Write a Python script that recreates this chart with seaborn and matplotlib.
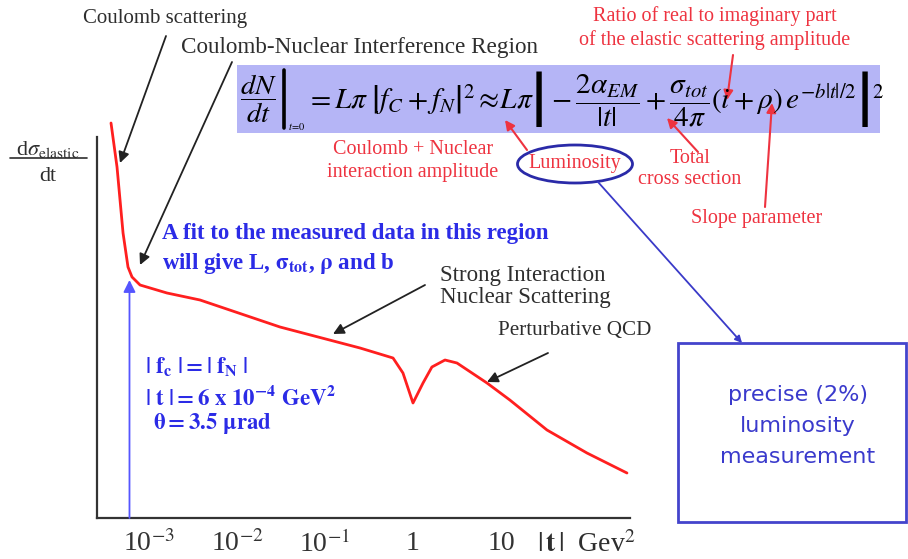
import numpy as np
import pandas as pd
import matplotlib
matplotlib.use("Agg")
import matplotlib.pyplot as plt
import seaborn as sns
from matplotlib.patches import FancyArrowPatch, Rectangle, Ellipse
from matplotlib.lines import Line2D
from matplotlib.ticker import NullLocator

# ---------------- data ----------------
t_values = [3.70e-4, 4.33e-4, 5.07e-4, 5.77e-4, 6.41e-4, 7.91e-4, 1.60e-3, 3.80e-3,
            0.0308, 0.250, 0.593, 0.769, 1.0, 1.30, 1.64, 2.31, 3.16, 6.93,
            12.6, 33.3, 94.8, 270.0]
dsigma_values = [3.95, 3.51, 2.85, 2.51, 2.41, 2.33, 2.25, 2.18,
                 1.91, 1.70, 1.60, 1.45, 1.15, 1.35, 1.51, 1.58, 1.55, 1.35,
                 1.18, 0.88, 0.65, 0.45]
tick_values = [1e-3, 1e-2, 1e-1, 1, 10]
tick_labels = ["10$^{-3}$", "10$^{-2}$", "10$^{-1}$", "1", "10"]
t_interference = 6e-4
y_interference = 2.38

W, H = 908, 559

sns.set_style("white")
plt.rcParams["font.family"] = ["Liberation Serif", "DejaVu Serif"]
plt.rcParams["mathtext.fontset"] = "stix"

fig = plt.figure(figsize=(W / 100, H / 100), dpi=100)
ax = fig.add_axes([97 / W, 1 - 518 / H, (630 - 97) / W, (518 - 137) / H])
ax.set_xscale("log")

df = pd.DataFrame({"t": t_values, "y": dsigma_values})
sns.lineplot(data=df, x="t", y="y", ax=ax, color="#ff1f1f", linewidth=2.0,
             sort=False, clip_on=False)

ax.set_xlim(10 ** -3.591, 10 ** 2.466)
ax.set_ylim(0, 3.81)
ax.set_xlabel("")
ax.set_ylabel("")
ax.set_yticks([])
ax.set_xticks(tick_values)
ax.set_xticklabels(tick_labels)
ax.xaxis.set_minor_locator(NullLocator())
ax.tick_params(axis="x", direction="in", length=11.5, width=1.3, color="#333333",
               labelsize=20, pad=9, labelcolor="#333333")
for s in ["top", "right"]:
    ax.spines[s].set_visible(False)
for s in ["left", "bottom"]:
    ax.spines[s].set_color("#333333")
    ax.spines[s].set_linewidth(1.6)

# blue vertical arrow at |t| = 6e-4
ax.annotate("", xy=(t_interference, y_interference), xytext=(t_interference, 0),
            arrowprops=dict(arrowstyle="-|>", color="#5555ff", lw=1.3,
                            mutation_scale=18, shrinkA=0, shrinkB=0))


def P(x, y):
    return (x / W, 1 - y / H)


def ftext(x, y, s, **kw):
    fig.text(x / W, 1 - y / H, s, **kw)


def farrow(x0, y0, x1, y1, color, lw=1.3, ms=16):
    a = FancyArrowPatch(P(x0, y0), P(x1, y1), transform=fig.transFigure,
                        arrowstyle="-|>", color=color, lw=lw, mutation_scale=ms,
                        shrinkA=0, shrinkB=0)
    fig.add_artist(a)


dark = "#2e2e2e"
red = "#ee3340"
blue = "#2b2be6"

# y label
ftext(48, 150, r"d$\sigma_{\mathrm{elastic}}$", ha="center", va="center",
      fontsize=16, color=dark)
fig.add_artist(Line2D([10 / W, 87 / W], [1 - 158 / H, 1 - 158 / H], color=dark, lw=1.2))
ftext(48, 176, "dt", ha="center", va="center", fontsize=16, color=dark)

# x label
ftext(537, 545, r"$|\,\mathbf{t}\,|$  Gev$^{2}$", ha="left", va="center",
      fontsize=20, color=dark)

# black annotations
ftext(83, 18, "Coulomb scattering", ha="left", va="center", fontsize=15, color=dark)
ftext(181, 47, "Coulomb-Nuclear Interference Region", ha="left", va="center",
      fontsize=16.7, color=dark)
farrow(166, 36, 120, 163, "#222222")
farrow(232, 62, 140, 265, "#222222")
ftext(440, 275, "Strong Interaction", ha="left", va="center", fontsize=16.5, color=dark)
ftext(440, 297, "Nuclear Scattering", ha="left", va="center", fontsize=16.5, color=dark)
farrow(425, 285, 333, 334, "#222222")
ftext(498, 330, "Perturbative QCD", ha="left", va="center", fontsize=15.2, color=dark)
farrow(548, 353, 487, 382, "#222222")

# blue fit annotations
ftext(162, 233, "A fit to the measured data in this region", ha="left", va="center",
      fontsize=16.5, color=blue, fontweight="bold")
ftext(162, 263, r"will give L, $\mathbf{\sigma_{tot}}$, $\mathbf{\rho}$ and b", ha="left",
      va="center", fontsize=16.5, color=blue, fontweight="bold")
ftext(145, 367, r"$\mathbf{|\ f_{c}\ | = |\ f_{N}\ |}$", ha="left", va="center",
      fontsize=16.5, color=blue)
ftext(145, 398, r"$\mathbf{|\ t\ | = 6\ x\ 10^{-4}\ GeV^{2}}$", ha="left", va="center",
      fontsize=16.5, color=blue)
ftext(153, 424, r"$\mathbf{\theta = 3.5\ \mu rad}$", ha="left", va="center",
      fontsize=16.5, color=blue)

# formula box
fig.add_artist(Rectangle(P(237, 133), (880 - 237) / W, (133 - 65) / H,
                         transform=fig.transFigure, facecolor="#b5b5f6",
                         edgecolor="none", zorder=0))
ftext(240, 99, r"$\dfrac{dN}{dt}$", ha="left", va="center", fontsize=20.5, color="black")
fig.add_artist(Line2D([284 / W, 284 / W], [1 - 70 / H, 1 - 128 / H], color="black",
                      lw=2.6))
ftext(288, 126, r"$t\!=\!0$", ha="left", va="center", fontsize=7.5, color="black")
formula_right = (r"$= L\pi\;\left|f_C + f_N\right|^2"
                 r" \approx\! L\pi\left|-\dfrac{2\alpha_{EM}}{|t|} + \dfrac{\sigma_{tot}}{4\pi}"
                 r"(i+\rho)\,e^{-b|t|/2}\right|^2$")
ftext(306, 99, formula_right, ha="left", va="center", fontsize=21.2, color="black")

# red labels
ftext(715, 16, "Ratio of real to imaginary part", ha="center", va="center",
      fontsize=14.5, color=red)
ftext(715, 40, "of the elastic scattering amplitude", ha="center", va="center",
      fontsize=14.5, color=red)
ftext(413, 150, "Coulomb + Nuclear", ha="center", va="center", fontsize=14.5, color=red)
ftext(413, 172, "interaction amplitude", ha="center", va="center", fontsize=14.5,
      color=red)
ftext(575, 164, "Luminosity", ha="center", va="center", fontsize=14.5, color=red)
ftext(690, 158, "Total", ha="center", va="center", fontsize=14.5, color=red)
ftext(690, 180, "cross section", ha="center", va="center", fontsize=14.5, color=red)
ftext(757, 218, "Slope parameter", ha="center", va="center", fontsize=14.5, color=red)
farrow(527, 150, 505, 120, red, lw=1.5, ms=14)
farrow(698, 152, 667, 118, red, lw=1.5, ms=14)
farrow(765, 207, 772, 103, red, lw=1.5, ms=14)
farrow(733, 55, 727, 100, red, lw=1.5, ms=14)

# luminosity ellipse and link to box
fig.add_artist(Ellipse(P(575, 164), 115 / W, 38 / H, transform=fig.transFigure,
                       facecolor="none", edgecolor="#2a2aa8", lw=2))
farrow(598, 182, 742, 343, "#3a3ac8", lw=1.3, ms=10)

# luminosity box
fig.add_artist(Rectangle(P(678, 522), (906 - 678) / W, (522 - 343) / H,
                         transform=fig.transFigure, facecolor="white",
                         edgecolor="#4444cc", lw=2))
box_lines = ["precise (2%)", "luminosity", "measurement"]
for i, s in enumerate(box_lines):
    ftext(798, 395 + 31 * i, s, ha="center", va="center", fontsize=16,
          color="#3a3acc", family=["DejaVu Sans"])

fig.savefig("out.png", dpi=100)
